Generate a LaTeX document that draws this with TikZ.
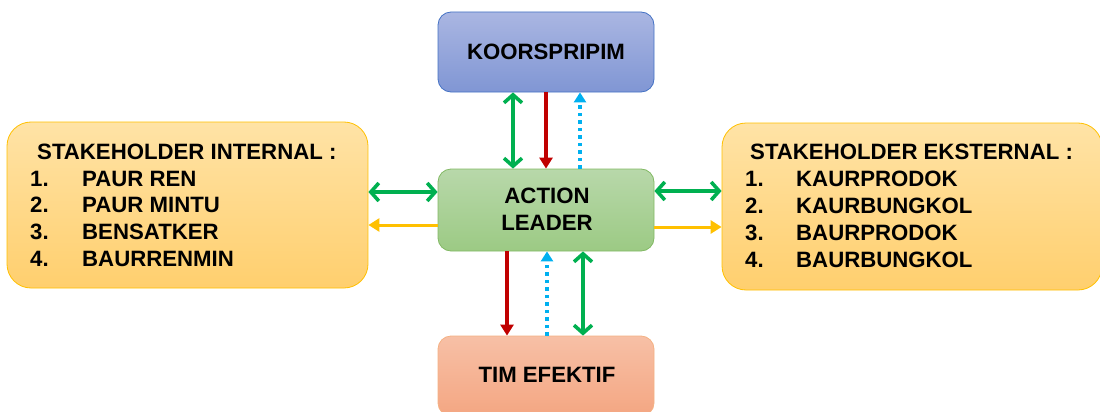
\documentclass[tikz,border=0pt]{standalone}
\usepackage{fontspec}
\setmainfont{Liberation Sans}
\usetikzlibrary{arrows.meta,calc}
\definecolor{gA}{HTML}{00B050}
\definecolor{rA}{HTML}{C00000}
\definecolor{cA}{HTML}{00B0F0}
\definecolor{yA}{HTML}{FFC000}
\definecolor{sTop}{HTML}{FFE3A6}
\definecolor{sBot}{HTML}{FFCF6E}
\begin{document}
\begin{tikzpicture}[x=1pt,y=-1pt,
  lbl/.style={font=\fontsize{22.2}{27}\selectfont\bfseries},
  boxA/.style={rounded corners=13pt,minimum width=216pt,line width=0.8pt,inner sep=0pt},
  sbox/.style={rounded corners=24pt,line width=0.8pt,inner sep=0pt,draw=yA,top color=sTop,bottom color=sBot},
  gdbl/.style={gA,line width=3.6pt,{Straight Barb[length=8pt,width=18pt,line width=3.6pt]}-{Straight Barb[length=8pt,width=18pt,line width=3.6pt]}},
  redar/.style={rA,line width=3.6pt,-{Triangle[length=11pt,width=13pt]}},
  cyar/.style={cA,line width=3.6pt,dash pattern=on 3.5pt off 4pt,-{Triangle[length=10pt,width=12pt]}},
  yar/.style={yA,line width=3pt,-{Triangle[length=11pt,width=13pt]}}]
\useasboundingbox (0,0) rectangle (1100,412);
\begin{scope}
\clip (0,0) rectangle (1100,412);
\node[boxA,minimum height=80pt,draw={rgb,255:red,68;green,114;blue,196},top color={rgb,255:red,170;green,182;blue,226},bottom color={rgb,255:red,128;green,150;blue,212}] (koor) at (546,52) {};
\node[boxA,minimum height=82pt,draw={rgb,255:red,130;green,185;blue,100},top color={rgb,255:red,184;green,216;blue,170},bottom color={rgb,255:red,156;green,202;blue,132}] (act) at (546,210) {};
\node[boxA,minimum height=80pt,draw={rgb,255:red,244;green,177;blue,131},top color={rgb,255:red,247;green,192;blue,166},bottom color={rgb,255:red,244;green,166;blue,130}] (tim) at (546,376) {};
\node[sbox,minimum width=361pt,minimum height=166pt] (lft) at (187.5,205) {};
\node[sbox,minimum width=380pt,minimum height=167pt] (rgt) at (912,206.5) {};
\end{scope}
\node[lbl] (koort) at (koor.center) {KOORSPRIPIM};
\node[lbl,align=center] (actt) at (547,209) {ACTION\\LEADER};
\node[lbl] (timt) at (547,375) {TIM EFEKTIF};
% left texts
\node[lbl,anchor=base west,inner sep=0pt] (l0) at (37,159.5) {STAKEHOLDER INTERNAL :};
\node[lbl,anchor=base west,inner sep=0pt] (l1n) at (30,186) {1.};
\node[lbl,anchor=base west,inner sep=0pt] (l1) at (82,186) {PAUR REN};
\node[lbl,anchor=base west,inner sep=0pt] (l2n) at (30,212.5) {2.};
\node[lbl,anchor=base west,inner sep=0pt] (l2) at (82,212.5) {PAUR MINTU};
\node[lbl,anchor=base west,inner sep=0pt] (l3n) at (30,239.5) {3.};
\node[lbl,anchor=base west,inner sep=0pt] (l3) at (82,239.5) {BENSATKER};
\node[lbl,anchor=base west,inner sep=0pt] (l4n) at (30,266) {4.};
\node[lbl,anchor=base west,inner sep=0pt] (l4) at (82,266) {BAURRENMIN};
% right texts
\node[lbl,anchor=base west,inner sep=0pt] (r0) at (750,159.5) {STAKEHOLDER EKSTERNAL :};
\node[lbl,anchor=base west,inner sep=0pt] (r1n) at (745,186) {1.};
\node[lbl,anchor=base west,inner sep=0pt] (r1) at (796,186) {KAURPRODOK};
\node[lbl,anchor=base west,inner sep=0pt] (r2n) at (745,213) {2.};
\node[lbl,anchor=base west,inner sep=0pt] (r2) at (796,213) {KAURBUNGKOL};
\node[lbl,anchor=base west,inner sep=0pt] (r3n) at (745,240) {3.};
\node[lbl,anchor=base west,inner sep=0pt] (r3) at (796,240) {BAURPRODOK};
\node[lbl,anchor=base west,inner sep=0pt] (r4n) at (745,267) {4.};
\node[lbl,anchor=base west,inner sep=0pt] (r4) at (796,267) {BAURBUNGKOL};
% top arrows
\draw[gdbl] ($(koor.south)+(-33,0)$) -- ($(act.north)+(-33,0)$);
\draw[redar] (koor.south) -- (act.north);
\draw[cyar] ($(act.north)+(34,0)$) -- ($(koor.south)+(34,0)$);
% bottom arrows
\draw[redar] ($(act.south)+(-39,0)$) -- ($(tim.north)+(-39,0)$);
\draw[cyar] ($(tim.north)+(1,0)$) -- ($(act.south)+(1,0)$);
\draw[gdbl] ($(act.south)+(37,0)$) -- ($(tim.north)+(37,0)$);
% side arrows
\draw[gdbl] (lft.east |- 0,192) -- (act.west |- 0,192);
\draw[yar] (act.west |- 0,225) -- (lft.east |- 0,225);
\draw[gdbl] (act.east |- 0,191) -- (rgt.west |- 0,191);
\draw[yar] (act.east |- 0,227) -- (rgt.west |- 0,227);
\end{tikzpicture}
\end{document}
